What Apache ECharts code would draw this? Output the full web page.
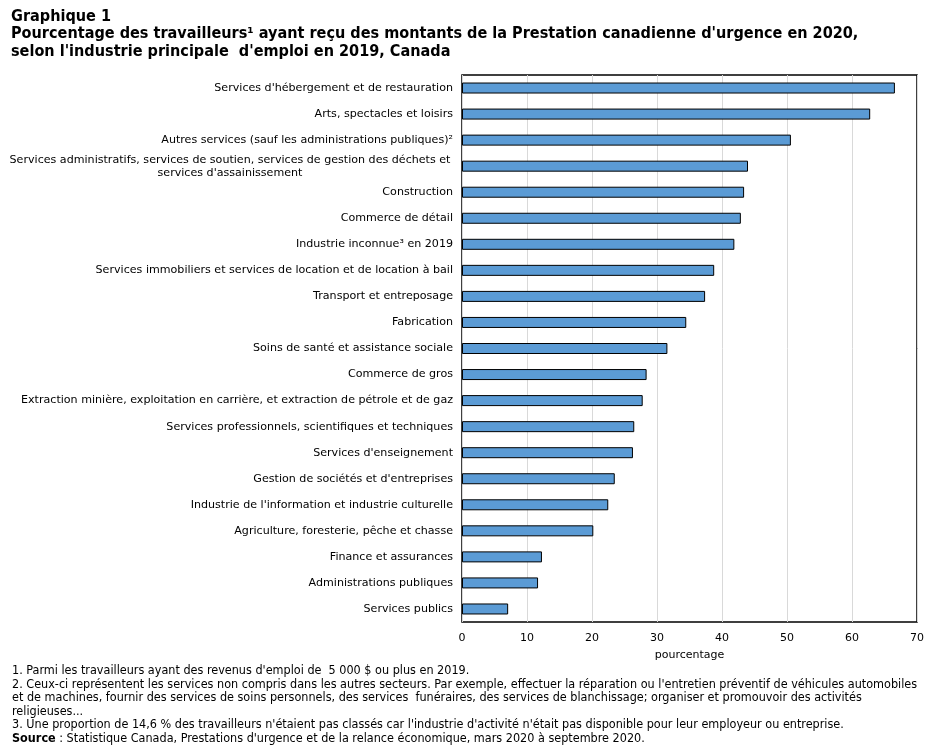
<!DOCTYPE html>
<html>
<head>
<meta charset="utf-8">
<script src="https://cdn.jsdelivr.net/npm/echarts@6/dist/echarts.min.js"></script>
<style>
  html, body { margin: 0; padding: 0; background: #fff; }
  #graph { width: 933px; height: 748px; }
</style>
</head>
<body>
<div id="graph"></div>
<script>
// industries, top to bottom
var industries = [
  "Services d'hébergement et de restauration",
  "Arts, spectacles et loisirs",
  "Autres services (sauf les administrations publiques)²",
  "Services administratifs, services de soutien, services de gestion des déchets et\nservices d'assainissement",
  "Construction",
  "Commerce de détail",
  "Industrie inconnue³ en 2019",
  "Services immobiliers et services de location et de location à bail",
  "Transport et entreposage",
  "Fabrication",
  "Soins de santé et assistance sociale",
  "Commerce de gros",
  "Extraction minière, exploitation en carrière, et extraction de pétrole et de gaz",
  "Services professionnels, scientifiques et techniques",
  "Services d'enseignement",
  "Gestion de sociétés et d'entreprises",
  "Industrie de l'information et industrie culturelle",
  "Agriculture, foresterie, pêche et chasse",
  "Finance et assurances",
  "Administrations publiques",
  "Services publics"
];
var pourcentages = [66.6, 62.8, 50.6, 44.0, 43.4, 42.9, 41.9, 38.8, 37.4, 34.5, 31.6, 28.4, 27.8, 26.5, 26.3, 23.5, 22.5, 20.2, 12.3, 11.7, 7.1];

var titleLines = [
  "Graphique 1",
  "Pourcentage des travailleurs¹ ayant reçu des montants de la Prestation canadienne d'urgence en 2020,",
  "selon l'industrie principale  d'emploi en 2019, Canada"
];
var notes = [
  "1. Parmi les travailleurs ayant des revenus d'emploi de  5 000 $ ou plus en 2019.",
  "2. Ceux-ci représentent les services non compris dans les autres secteurs. Par exemple, effectuer la réparation ou l'entretien préventif de véhicules automobiles",
  "et de machines, fournir des services de soins personnels, des services  funéraires, des services de blanchissage; organiser et promouvoir des activités",
  "religieuses...",
  "3. Une proportion de 14,6 % des travailleurs n'étaient pas classés car l'industrie d'activité n'était pas disponible pour leur employeur ou entreprise."
];
var source = "Statistique Canada, Prestations d'urgence et de la relance économique, mars 2020 à septembre 2020.";

var graph = echarts.init(document.getElementById('graph'));
graph.setOption({
  animation: false,
  textStyle: { fontFamily: 'DejaVu Sans' },
  title: [
    {
      text: titleLines.join('\n'),
      left: 6, top: 3,
      textStyle: { fontFamily: 'DejaVu Sans Condensed', fontSize: 16.1, fontWeight: 'bold', color: '#000', lineHeight: 17.5 }
    },
    {
      text: notes.join('\n') + '\n{b|Source} : ' + source,
      left: 7, top: 659,
      textStyle: {
        fontFamily: 'DejaVu Sans Condensed', fontSize: 12.5, fontWeight: 'normal', color: '#000', lineHeight: 13.6,
        rich: { b: { fontFamily: 'DejaVu Sans Condensed', fontSize: 12.5, fontWeight: 'bold', color: '#000' } }
      }
    }
  ],
  grid: { left: 462, right: 16, top: 75, bottom: 126, containLabel: false,
          show: true, borderColor: '#000', borderWidth: 1.5 },
  xAxis: {
    type: 'value',
    min: 0, max: 70, interval: 10,
    name: 'pourcentage',
    nameLocation: 'middle',
    nameGap: 28,
    nameTextStyle: { fontSize: 11, color: '#000' },
    axisLine: { show: false },
    axisTick: { show: false },
    axisLabel: { fontSize: 11, color: '#000', margin: 11 },
    splitLine: { lineStyle: { color: '#d9d9d9', width: 1 } }
  },
  yAxis: {
    type: 'category',
    inverse: true,
    data: industries,
    axisLine: { show: false },
    axisTick: { show: false },
    axisLabel: {
      fontSize: 11.1, color: '#000', margin: 9,
      formatter: function (v) {
        if (v.indexOf('\n') < 0) return v;
        return v.split('\n').map(function (s) { return '{w|' + s + '}'; }).join('\n');
      },
      rich: { w: { width: 446, align: 'center', fontSize: 11.1, color: '#000', lineHeight: 13 } }
    }
  },
  series: [{
    type: 'bar',
    data: pourcentages,
    barWidth: 11,
    itemStyle: { color: '#5b9bd5', borderColor: '#000', borderWidth: 1 }
  }]
});
</script>
</body>
</html>
